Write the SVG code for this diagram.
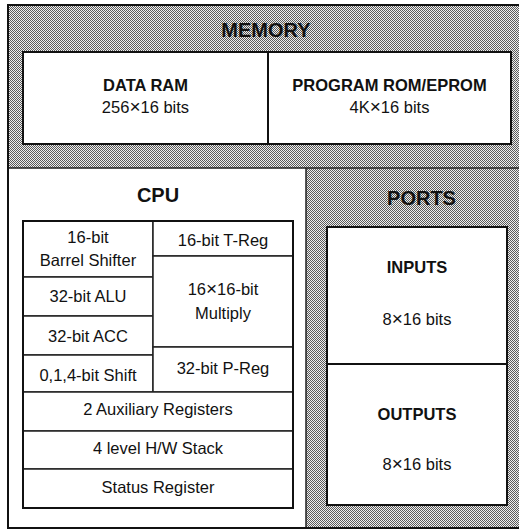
<svg xmlns="http://www.w3.org/2000/svg" width="519" height="531" viewBox="0 0 519 531">
<defs>
<pattern id="dots" width="2" height="2" patternUnits="userSpaceOnUse">
<rect width="2" height="2" fill="#eeeeee"/>
<rect width="1" height="1" fill="#5a5a5a"/>
<rect x="1" y="1" width="1" height="1" fill="#5a5a5a"/>
</pattern>
</defs>
<style>
text{font-family:"Liberation Sans",Arial,Helvetica,sans-serif;fill:#111;text-anchor:middle}
.t{font-size:20px;font-weight:bold}
.b{font-size:16.5px;font-weight:bold}
.r{font-size:16.5px}
.x{font-size:19px}
.box{fill:#fff;stroke:#111;stroke-width:2}
.cell{fill:#fff;stroke:#222;stroke-width:1.5}
.ln{stroke:#222;stroke-width:1.5;fill:none}
</style>
<rect width="519" height="531" fill="#fff"/>
<g id="memory">
<rect x="8" y="5" width="513" height="163" fill="url(#dots)"/>
<text class="t" x="266" y="37">MEMORY</text>
<g id="data-ram">
<rect class="box" x="23" y="52" width="245" height="92"/>
<text class="b" x="145.5" y="91">DATA RAM</text>
<text class="r" x="145.5" y="113">256<tspan class="x">×</tspan>16 bits</text>
</g>
<g id="program-rom">
<rect class="box" x="268" y="52" width="243" height="92"/>
<text class="b" x="389.5" y="91">PROGRAM ROM/EPROM</text>
<text class="r" x="389.5" y="113">4K<tspan class="x">×</tspan>16 bits</text>
</g>
</g>
<g id="cpu">
<rect x="8" y="168" width="298" height="360" fill="#fff"/>
<text class="t" x="158" y="202">CPU</text>
<g id="barrel-shifter"><rect class="cell" x="23" y="221" width="130" height="56"/><text class="r" x="88" y="243">16-bit</text><text class="r" x="88" y="266">Barrel Shifter</text></g>
<g id="alu"><rect class="cell" x="23" y="277" width="130" height="39"/><text class="r" x="88" y="302">32-bit ALU</text></g>
<g id="acc"><rect class="cell" x="23" y="316" width="130" height="39"/><text class="r" x="88" y="342">32-bit ACC</text></g>
<g id="shift"><rect class="cell" x="23" y="355" width="130" height="37"/><text class="r" x="88" y="381">0,1,4-bit Shift</text></g>
<g id="t-reg"><rect class="cell" x="153" y="221" width="140" height="35"/><text class="r" x="223" y="246">16-bit T-Reg</text></g>
<g id="multiply"><rect class="cell" x="153" y="256" width="140" height="91"/><text class="r" x="223" y="295">16<tspan class="x">×</tspan>16-bit</text><text class="r" x="223" y="319">Multiply</text></g>
<g id="p-reg"><rect class="cell" x="153" y="347" width="140" height="45"/><text class="r" x="223" y="374">32-bit P-Reg</text></g>
<g id="aux-regs"><rect class="cell" x="23" y="392" width="270" height="39"/><text class="r" x="158" y="415">2 Auxiliary Registers</text></g>
<g id="hw-stack"><rect class="cell" x="23" y="431" width="270" height="38"/><text class="r" x="158" y="454">4 level H/W Stack</text></g>
<g id="status-reg"><rect class="cell" x="23" y="469" width="270" height="39"/><text class="r" x="158" y="493">Status Register</text></g>
<rect x="23" y="221" width="270" height="287" fill="none" stroke="#111" stroke-width="2"/>
</g>
<g id="ports">
<rect x="306" y="168" width="215" height="360" fill="url(#dots)"/>
<text class="t" x="421.5" y="205">PORTS</text>
<g id="inputs"><rect class="box" x="327" y="227" width="180" height="137"/><text class="b" x="417" y="273">INPUTS</text><text class="r" x="417" y="325">8<tspan class="x">×</tspan>16 bits</text></g>
<g id="outputs"><rect class="box" x="327" y="364" width="180" height="141"/><text class="b" x="417" y="420">OUTPUTS</text><text class="r" x="417" y="470">8<tspan class="x">×</tspan>16 bits</text></g>
</g>
<g id="connectors">
<path class="ln" d="M8 168H519M306 168V528"/>
<path d="M521 5H8V528H521" fill="none" stroke="#111" stroke-width="2"/>
</g>
</svg>
